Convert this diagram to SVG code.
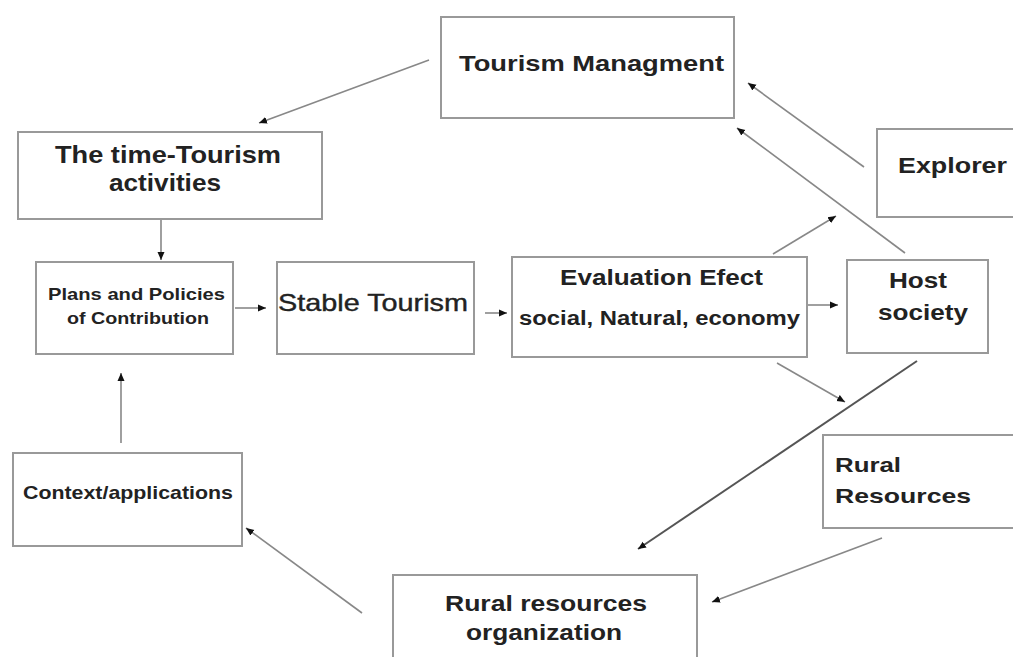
<svg xmlns="http://www.w3.org/2000/svg" width="1013" height="657" viewBox="0 0 1013 657">
<style>
.box{fill:#fff;stroke:#999;stroke-width:2}
.t{font-family:"Liberation Sans",Arial,sans-serif;font-weight:bold;fill:#222}
.r{font-weight:normal;stroke:#222;stroke-width:0.4}
.c{stroke:#888;stroke-width:1.6;fill:none;marker-end:url(#ah)}
.d{stroke:#555;stroke-width:2}
</style>
<defs>
<marker id="ah" markerUnits="userSpaceOnUse" markerWidth="9" markerHeight="8" refX="8" refY="4" orient="auto"><path d="M0,0.5 L8,4 L0,7.5 z" fill="#111"/></marker>
</defs>
<rect width="1013" height="657" fill="#fff"/>
<g id="connectors">
<line class="c" x1="429" y1="60" x2="259" y2="123"/>
<line class="c" x1="161" y1="219" x2="161" y2="260"/>
<line class="c" x1="235" y1="308" x2="266" y2="308"/>
<line class="c" x1="485" y1="313" x2="507" y2="313"/>
<line class="c" x1="807" y1="305" x2="838" y2="305"/>
<line class="c" x1="773" y1="254" x2="836" y2="216"/>
<line class="c" x1="905" y1="253" x2="737" y2="128"/>
<line class="c" x1="864" y1="167" x2="748" y2="83"/>
<line class="c" x1="777" y1="363" x2="845" y2="402"/>
<line class="c d" x1="917" y1="361" x2="638" y2="549"/>
<line class="c" x1="882" y1="538" x2="712" y2="602"/>
<line class="c" x1="362" y1="613" x2="246" y2="528"/>
<line class="c" x1="121" y1="443" x2="121" y2="373"/>
</g>
<g id="tourism-management">
<rect class="box" x="441" y="17" width="293" height="101"/>
<text class="t" x="459" y="71" font-size="22" textLength="265" lengthAdjust="spacingAndGlyphs">Tourism  Managment</text>
</g>
<g id="explorer">
<rect class="box" x="877" y="129" width="145" height="88"/>
<text class="t" x="898" y="173" font-size="22" textLength="109" lengthAdjust="spacingAndGlyphs">Explorer</text>
</g>
<g id="time-tourism">
<rect class="box" x="18" y="132" width="304" height="87"/>
<text class="t" x="55" y="163" font-size="24" textLength="226" lengthAdjust="spacingAndGlyphs">The time-Tourism</text>
<text class="t" x="109" y="191" font-size="24" textLength="112" lengthAdjust="spacingAndGlyphs">activities</text>
</g>
<g id="plans">
<rect class="box" x="36" y="262" width="197" height="92"/>
<text class="t" x="48" y="300" font-size="17" textLength="177" lengthAdjust="spacingAndGlyphs">Plans and Policies</text>
<text class="t" x="67" y="324" font-size="17" textLength="142" lengthAdjust="spacingAndGlyphs">of Contribution</text>
</g>
<g id="stable-tourism">
<rect class="box" x="277" y="262" width="197" height="92"/>
<text class="t r" x="278" y="311" font-size="24" textLength="190" lengthAdjust="spacingAndGlyphs">Stable Tourism</text>
</g>
<g id="evaluation">
<rect class="box" x="512" y="257" width="295" height="100"/>
<text class="t" x="560" y="285" font-size="22" textLength="203" lengthAdjust="spacingAndGlyphs">Evaluation Efect</text>
<text class="t" x="519" y="325" font-size="20" textLength="281" lengthAdjust="spacingAndGlyphs">social, Natural, economy</text>
</g>
<g id="host-society">
<rect class="box" x="847" y="260" width="141" height="93"/>
<text class="t" x="889" y="288" font-size="22" textLength="58" lengthAdjust="spacingAndGlyphs">Host</text>
<text class="t" x="878" y="320" font-size="22" textLength="90" lengthAdjust="spacingAndGlyphs">society</text>
</g>
<g id="rural-resources">
<rect class="box" x="823" y="435" width="198" height="93"/>
<text class="t" x="835" y="472" font-size="21" textLength="66" lengthAdjust="spacingAndGlyphs">Rural</text>
<text class="t" x="835" y="503" font-size="21" textLength="136" lengthAdjust="spacingAndGlyphs">Resources</text>
</g>
<g id="context-applications">
<rect class="box" x="13" y="453" width="229" height="93"/>
<text class="t" x="23" y="499" font-size="19" textLength="210" lengthAdjust="spacingAndGlyphs">Context/applications</text>
</g>
<g id="rural-resources-organization">
<rect class="box" x="393" y="575" width="304" height="100"/>
<text class="t" x="445" y="611" font-size="22" textLength="202" lengthAdjust="spacingAndGlyphs">Rural resources</text>
<text class="t" x="466" y="640" font-size="22" textLength="156" lengthAdjust="spacingAndGlyphs">organization</text>
</g>
</svg>
